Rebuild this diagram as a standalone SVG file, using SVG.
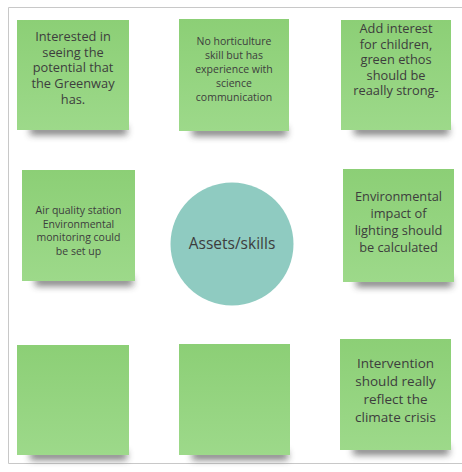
<svg xmlns="http://www.w3.org/2000/svg" width="462" height="472" viewBox="0 0 462 472">
<defs>
<linearGradient id="g" x1="0" y1="0" x2="0" y2="1">
<stop offset="0" stop-color="#8ccf76"/>
<stop offset="1" stop-color="#9dd98a"/>
</linearGradient>
<filter id="sh" x="-20%" y="-100%" width="140%" height="300%">
<feGaussianBlur stdDeviation="3.5"/>
</filter>
<style>
.note{fill:url(#g);}
.shadow{fill:#404040;opacity:0.65;filter:url(#sh);}
.t{font-family:"Open Sans","Noto Sans",sans-serif;fill:#3d3d3d;text-anchor:middle;}
.t13{font-size:12.8px;}
.t11{font-size:10.5px;}
.t14{font-size:13.5px;}
</style>
</defs>
<rect width="462" height="472" fill="#ffffff"/>
<path d="M470 7.5 H8.5 V463.5 H470" fill="none" stroke="#c8c8c8" stroke-width="1"/>

<g id="note1">
<rect class="shadow" x="30" y="126" width="97" height="9"/>
<rect class="note" x="17" y="20" width="112" height="110"/>
<text class="t t13" x="73" y="41"><tspan x="73">Interested in</tspan><tspan x="73" dy="15.7">seeing the</tspan><tspan x="73" dy="15.7">potential that</tspan><tspan x="73" dy="15.7">the Greenway</tspan><tspan x="73" dy="15.7">has.</tspan></text>
</g>

<g id="note2">
<rect class="shadow" x="192" y="127" width="95" height="9"/>
<rect class="note" x="179" y="19" width="110" height="112"/>
<text class="t t11" x="234" y="45"><tspan x="234">No horticulture</tspan><tspan x="234" dy="14">skill but has</tspan><tspan x="234" dy="14">experience with</tspan><tspan x="234" dy="14">science</tspan><tspan x="234" dy="14">communication</tspan></text>
</g>

<g id="note3">
<rect class="shadow" x="354" y="126" width="95" height="9"/>
<rect class="note" x="341" y="20" width="110" height="110"/>
<text class="t t13" x="396" y="33"><tspan x="396">Add interest</tspan><tspan x="396" dy="15.5">for children,</tspan><tspan x="396" dy="15.5">green ethos</tspan><tspan x="396" dy="15.5">should be</tspan><tspan x="396" dy="15.5">reaally strong-</tspan></text>
</g>

<g id="note4">
<rect class="shadow" x="35" y="277" width="98" height="9"/>
<rect class="note" x="22" y="170" width="113" height="111"/>
<text class="t t11" x="78.5" y="214"><tspan x="78.5">Air quality station</tspan><tspan x="78.5" dy="13.7">Environmental</tspan><tspan x="78.5" dy="13.7">monitoring could</tspan><tspan x="78.5" dy="13.7">be set up</tspan></text>
</g>

<g id="hub">
<circle cx="232" cy="244" r="61.5" fill="#8fcbc1"/>
<text class="t" x="232" y="249" style="font-size:15.5px">Assets/skills</text>
</g>

<g id="note5">
<rect class="shadow" x="356" y="278" width="96" height="9"/>
<rect class="note" x="343" y="169" width="111" height="113"/>
<text class="t t13" x="398.5" y="201"><tspan x="398.5">Environmental</tspan><tspan x="398.5" dy="17">impact of</tspan><tspan x="398.5" dy="17">lighting should</tspan><tspan x="398.5" dy="17">be calculated</tspan></text>
</g>

<g id="note6">
<rect class="shadow" x="30" y="451" width="97" height="9"/>
<rect class="note" x="17" y="345" width="112" height="110"/>
</g>

<g id="note7">
<rect class="shadow" x="192" y="451" width="96" height="9"/>
<rect class="note" x="179" y="344" width="111" height="111"/>
</g>

<g id="note8">
<rect class="shadow" x="353" y="446" width="96" height="9"/>
<rect class="note" x="340" y="339" width="111" height="111"/>
<text class="t t14" x="395.5" y="368"><tspan x="395.5">Intervention</tspan><tspan x="395.5" dy="18">should really</tspan><tspan x="395.5" dy="18">reflect the</tspan><tspan x="395.5" dy="18">climate crisis</tspan></text>
</g>

<g id="connectors"></g>
</svg>
